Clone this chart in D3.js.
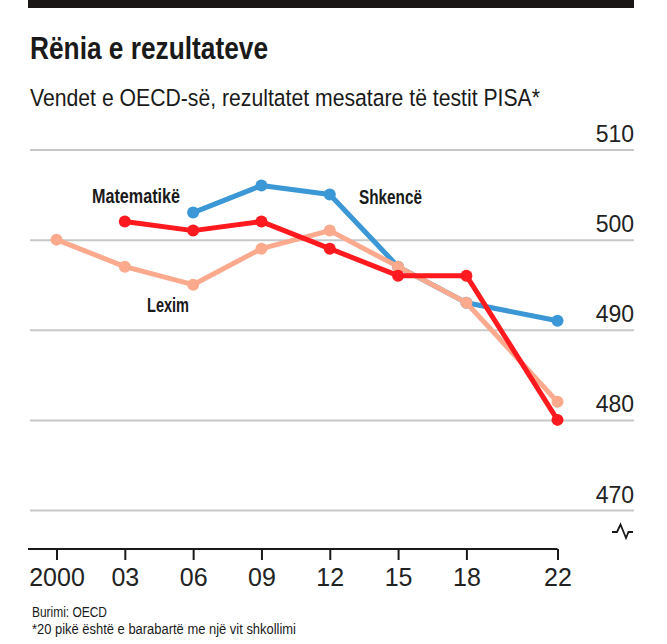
<!DOCTYPE html>
<html>
<head>
<meta charset="utf-8">
<script src="https://cdn.jsdelivr.net/npm/d3@7"></script>
<style>
html,body{margin:0;padding:0;background:#fff;}
svg{display:block;}
</style>
</head>
<body>
<svg id="chart" width="667" height="644"></svg>
<script>
const years = [2000, 2003, 2006, 2009, 2012, 2015, 2018, 2022];
const yearLabels = ["2000", "03", "06", "09", "12", "15", "18", "22"];
const reading = [500, 497, 495, 499, 501, 497, 493, 482];
const maths = [null, 502, 501, 502, 499, 496, 496, 480];
const science = [null, null, 503, 506, 505, 497, 493, 491];
const yTicks = [470, 480, 490, 500, 510];
const seriesNames = ["Shkencë", "Lexim", "Matematikë"];
const seriesColors = ["#3b97d5", "#fbaa8e", "#ff1a1f"];

const svg = d3.select("#chart");
const face = "'Liberation Sans', Arial, Helvetica, sans-serif";

function squeezed(xp, yp, txt, size, weight, width) {
  return svg.append("text").attr("x", xp).attr("y", yp)
    .style("font-family", face).style("font-weight", weight).style("font-size", size + "px")
    .attr("fill", "#1a1a1a")
    .attr("textLength", width).attr("lengthAdjust", "spacingAndGlyphs")
    .text(txt);
}

// top bar
svg.append("rect").attr("x", 28).attr("y", 0).attr("width", 606).attr("height", 8).attr("fill", "#1a1616");

squeezed(30, 59, "Rënia e rezultateve", 31, "bold", 238);
squeezed(30, 106, "Vendet e OECD-së, rezultatet mesatare të testit PISA*", 24.5, "normal", 510);

const x = d3.scaleLinear().domain([2000, 2022]).range([56.5, 557.5]);
const y = d3.scaleLinear().domain([470, 510]).range([510, 149.5]);

// gridlines & right labels
const yAxis = d3.axisRight(y).tickValues(yTicks).tickSize(604).tickFormat(d3.format("d"));
const gy = svg.append("g").attr("transform", "translate(30,0)").call(yAxis);
gy.select(".domain").remove();
gy.selectAll(".tick line").attr("stroke", "#c8c8c8").attr("stroke-width", 2);
gy.selectAll(".tick text")
  .attr("x", 604).attr("dy", -8).attr("text-anchor", "end")
  .style("font-family", face).style("font-size", "23px").attr("fill", "#222");

// x axis
const xAxis = d3.axisBottom(x).tickValues(years).tickSize(11).tickPadding(8)
  .tickFormat((d, i) => yearLabels[i]);
const gx = svg.append("g").attr("transform", "translate(0,549)").call(xAxis);
gx.select(".domain").attr("d", "M28,0H" + x(2022)).attr("stroke", "#1a1a1a").attr("stroke-width", 2);
gx.selectAll(".tick line").attr("stroke", "#1a1a1a").attr("stroke-width", 2);
gx.selectAll(".tick text").style("font-family", face).style("font-size", "25px").attr("fill", "#222")
  .attr("dy", "0.71em");

// axis break symbol
svg.append("path")
  .attr("d", "M612,532H617L620.5,524.5L626,538L628.5,532H633")
  .attr("fill", "none").attr("stroke", "#1a1a1a").attr("stroke-width", 1.8);

// series
const data = [science, reading, maths];
const line = d3.line()
  .defined(d => d.v !== null)
  .x(d => x(d.year)).y(d => y(d.v));
data.forEach((vals, si) => {
  const pts = years.map((yr, i) => ({ year: yr, v: vals[i] }));
  const g = svg.append("g");
  g.append("path").datum(pts).attr("d", line)
    .attr("fill", "none").attr("stroke", seriesColors[si]).attr("stroke-width", 5)
    .attr("stroke-linejoin", "round");
  g.selectAll("circle").data(pts.filter(d => d.v !== null)).join("circle")
    .attr("cx", d => x(d.year)).attr("cy", d => y(d.v)).attr("r", 6)
    .attr("fill", seriesColors[si]);
});

// series labels
const labelPos = [
  { name: seriesNames[0], x: 359, y: 204, w: 63 },
  { name: seriesNames[1], x: 147, y: 312, w: 42 },
  { name: seriesNames[2], x: 92, y: 203, w: 88 }
];
labelPos.forEach(l => squeezed(l.x, l.y, l.name, 20, "bold", l.w));

// footnotes
squeezed(32, 617, "Burimi: OECD", 14, "normal", 75);
squeezed(32, 634, "*20 pikë është e barabartë me një vit shkollimi", 14, "normal", 264);
</script>
</body>
</html>
